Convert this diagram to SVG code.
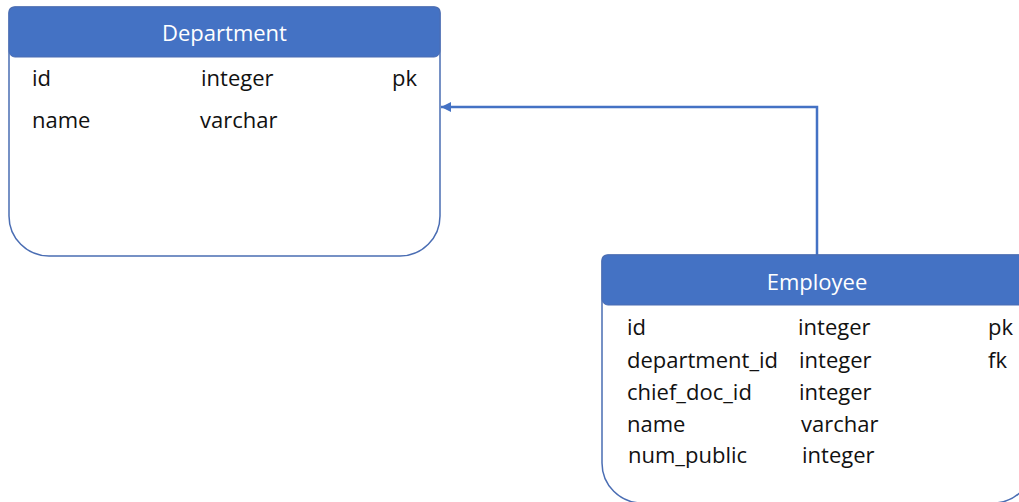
<svg xmlns="http://www.w3.org/2000/svg" width="1019" height="502" viewBox="0 0 1019 502">
<defs>
<style>
.body{fill:#ffffff;stroke:#4a6db3;stroke-width:1.5}
.hdr{fill:#4472c4;stroke:#4a6db3;stroke-width:1}
.title{font-family:"Open Sans","Liberation Sans",sans-serif;font-size:22px;fill:#ffffff;text-anchor:middle}
.t{font-family:"Open Sans","Liberation Sans",sans-serif;font-size:22px;fill:#111111}
.conn{fill:none;stroke:#4472c4;stroke-width:2.5}
</style>
<marker id="arr" markerWidth="12" markerHeight="12" refX="10" refY="6" orient="auto" markerUnits="userSpaceOnUse">
<path d="M0,1 L10,6 L0,11 Z" fill="#4472c4"/>
</marker>
</defs>
<g id="connectors">
<path class="conn" d="M817,255 V107 H441" marker-end="url(#arr)"/>
</g>
<g id="department">
<path class="body" d="M9,13 Q9,7 15,7 H434 Q440,7 440,13 V216 A40,40 0 0 1 400,256 H49 A40,40 0 0 1 9,216 Z"/>
<rect class="hdr" x="9" y="7" width="431" height="50" rx="6"/>
<text class="title" x="224.5" y="41">Department</text>
<text class="t" x="32" y="86">id</text>
<text class="t" x="201" y="86">integer</text>
<text class="t" x="392" y="86">pk</text>
<text class="t" x="32" y="128">name</text>
<text class="t" x="200" y="128">varchar</text>
</g>
<g id="employee">
<path class="body" d="M602,261 Q602,255 608,255 H1027 Q1033,255 1033,261 V463 A40,40 0 0 1 993,503 H642 A40,40 0 0 1 602,463 Z"/>
<rect class="hdr" x="602" y="255" width="431" height="50" rx="6"/>
<text class="title" x="817" y="290">Employee</text>
<text class="t" x="627" y="335">id</text>
<text class="t" x="798" y="335">integer</text>
<text class="t" x="988" y="335">pk</text>
<text class="t" x="627" y="368">department_id</text>
<text class="t" x="799" y="368">integer</text>
<text class="t" x="988" y="368">fk</text>
<text class="t" x="627" y="400">chief_doc_id</text>
<text class="t" x="799" y="400">integer</text>
<text class="t" x="627" y="432">name</text>
<text class="t" x="801" y="432">varchar</text>
<text class="t" x="628" y="463">num_public</text>
<text class="t" x="802" y="463">integer</text>
</g>
</svg>
